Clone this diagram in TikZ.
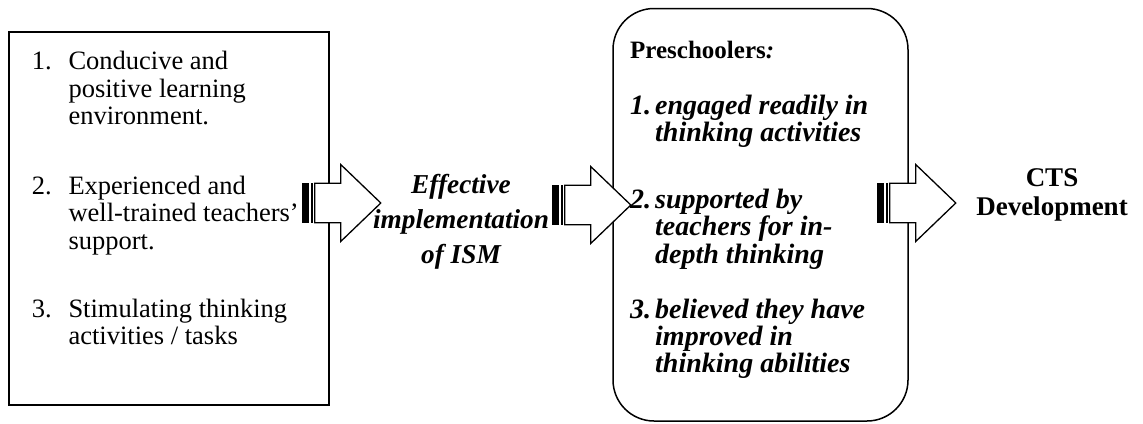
\documentclass[tikz,border=0pt]{standalone}
\usepackage{fontspec}
\setmainfont{Liberation Serif}
\begin{document}
\begin{tikzpicture}[x=1pt,y=-1pt,
  lefttxt/.style={anchor=base west,inner sep=0pt,font=\fontsize{26.5}{28}\selectfont},
  midtxt/.style={anchor=base west,inner sep=0pt,font=\fontsize{28}{28}\selectfont\bfseries\itshape},
  headtxt/.style={anchor=base west,inner sep=0pt,font=\fontsize{25}{25}\selectfont\bfseries},
  ismtxt/.style={anchor=base,inner sep=0pt,font=\fontsize{27.3}{28}\selectfont\bfseries\itshape},
  ctstxt/.style={anchor=base,inner sep=0pt,font=\fontsize{27}{28}\selectfont\bfseries},
  pics/stripedarrow/.style={code={
    \fill (0,-19.7) rectangle (7,19.7);
    \fill (8.7,-19.7) rectangle (11,19.7);
    \draw[line width=1.3pt,line join=miter,fill=white]
      (12.5,-19.7) -- (38.5,-19.7) -- (38.5,-38.4) -- (78.5,0)
      -- (38.5,38.4) -- (38.5,19.7) -- (12.5,19.7) -- cycle;
  }}]
\useasboundingbox (0,0) rectangle (1143,423);

% factor box and outcome box
\node (factors) [draw,line width=2pt,inner sep=0pt,minimum width=320.5pt,minimum height=373pt] at (168.75,218.5) {};
\node (outcomes) [draw,line width=1.5pt,rounded corners=41pt,inner sep=0pt,minimum width=295pt,minimum height=412.5pt] at (760.5,214.75) {};

% block arrows
\pic (arrowA) at (302.3,203) {stripedarrow};
\pic (arrowB) at (552.3,205) {stripedarrow};
\pic (arrowC) at (877.3,203) {stripedarrow};

% factors
\node[lefttxt] (fa) at (31.7,69) {1.};
\node[lefttxt] (fa1) at (68.3,69) {Conducive and};
\node[lefttxt] (fa2) at (68.3,97) {positive learning};
\node[lefttxt] (fa3) at (68.3,124.5) {environment.};
\node[lefttxt] (fb) at (31.7,194) {2.};
\node[lefttxt] (fb1) at (68.3,194) {Experienced and};
\node[lefttxt] (fb2) at (68.3,221.5) {well-trained teachers’};
\node[lefttxt] (fb3) at (68.3,249) {support.};
\node[lefttxt] (fc) at (31.7,317) {3.};
\node[lefttxt] (fc1) at (68.3,317) {Stimulating thinking};
\node[lefttxt] (fc2) at (68.3,344.5) {activities / tasks};

% implementation
\node[ismtxt] (ism1) at (461,193) {Effective};
\node[ismtxt] (ism2) at (461,228) {implementation};
\node[ismtxt] (ism3) at (461,263) {of ISM};

% outcomes
\node[headtxt] (head) at (630,58) {Preschoolers\textit{:}};
\node[midtxt] (oa) at (630,114) {1.};
\node[midtxt] (oa1) at (655,114) {engaged readily in};
\node[midtxt] (oa2) at (655,141) {thinking activities};
\node[midtxt] (ob) at (630,208) {2.};
\node[midtxt] (ob1) at (655,208) {supported by};
\node[midtxt] (ob2) at (655,235.5) {teachers for in-};
\node[midtxt] (ob3) at (655,263) {depth thinking};
\node[midtxt] (oc) at (630,318) {3.};
\node[midtxt] (oc1) at (655,318) {believed they have};
\node[midtxt] (oc2) at (655,345) {improved in};
\node[midtxt] (oc3) at (655,372) {thinking abilities};

% result
\node[ctstxt] (cts1) at (1052,186) {CTS};
\node[ctstxt] (cts2) at (1052,215) {Development};
\end{tikzpicture}
\end{document}
